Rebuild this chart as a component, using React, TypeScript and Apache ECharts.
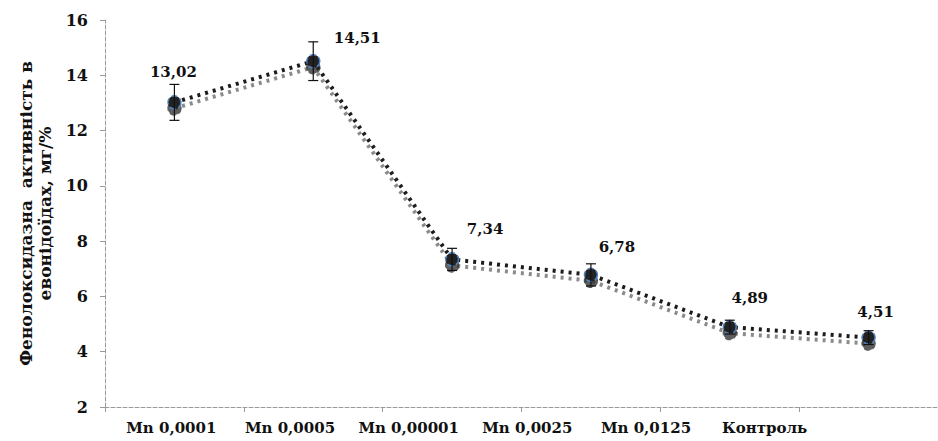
import React, { useEffect, useRef } from "react";
import * as echarts from "echarts";

const categories = ["Mn 0,0001", "Mn 0,0005", "Mn 0,00001", "Mn 0,0025", "Mn 0,0125", "Контроль"];
const values = [13.02, 14.51, 7.34, 6.78, 4.89, 4.51];
const errors = [0.65, 0.7, 0.4, 0.4, 0.25, 0.25];
const valueLabels = ["13,02", "14,51", "7,34", "6,78", "4,89", "4,51"];
const yMin = 2;
const yMax = 16;
const yStep = 2;
const yTitle = "Фенолоксидазна  активність в\nевонідоїдах, мг/%";

const labelOffsets: [number, number][] = [
  [-1, -30],
  [44, -23],
  [33, -30],
  [26, -28],
  [20, -29],
  [7, -26],
];

const serif = "DejaVu Serif";

export default function App() {
  const ref = useRef<HTMLDivElement>(null);
  useEffect(() => {
    if (!ref.current) return;
    const chart = echarts.init(ref.current, null, { renderer: "svg" });
    const option: any = {
      animation: false,
      backgroundColor: "#ffffff",
      grid: [
        { left: 105, top: 20, bottom: 34, right: -7, containLabel: false },
        { left: 112, top: 20, bottom: 34, right: 114, containLabel: false },
      ],
      xAxis: [
        {
          type: "category",
          gridIndex: 0,
          data: categories,
          boundaryGap: true,
          axisLine: { lineStyle: { color: "#9a9a9a", type: "dashed", width: 1 } },
          axisTick: { show: true, length: 5, lineStyle: { color: "#9a9a9a" } },
          axisLabel: { show: false },
        },
        {
          type: "category",
          gridIndex: 1,
          data: categories,
          axisLine: { show: false },
          axisTick: { show: false },
          axisLabel: {
            show: true,
            interval: 0,
            hideOverlap: false,
            margin: 13,
            color: "#111",
            fontFamily: serif,
            fontWeight: "bold",
            fontSize: 15,
          },
        },
      ],
      yAxis: [
        {
          type: "value",
          gridIndex: 0,
          min: yMin,
          max: yMax,
          interval: yStep,
          name: yTitle,
          nameLocation: "middle",
          nameGap: 50,
          nameRotate: 90,
          nameTextStyle: {
            fontFamily: serif,
            fontWeight: "bold",
            fontSize: 17,
            color: "#111",
            lineHeight: 19,
          },
          axisLine: { show: true, lineStyle: { color: "#9a9a9a", type: "dashed", width: 1 } },
          axisTick: { show: true, length: 5, lineStyle: { color: "#9a9a9a" } },
          splitLine: { show: false },
          axisLabel: {
            margin: 17,
            color: "#111",
            fontFamily: serif,
            fontWeight: "bold",
            fontSize: 16,
          },
        },
        {
          type: "value",
          gridIndex: 1,
          min: yMin,
          max: yMax,
          show: false,
        },
      ],
      series: [
        {
          type: "line",
          xAxisIndex: 0,
          yAxisIndex: 0,
          data: values.map((v, i) => ({
            value: v,
            label: {
              show: true,
              formatter: valueLabels[i],
              position: "inside",
              offset: labelOffsets[i],
              fontFamily: serif,
              fontWeight: "bold",
              fontSize: 15,
              color: "#111",
            },
          })),
          symbol: "circle",
          symbolSize: 13,
          itemStyle: {
            color: "#222",
            borderColor: "#4f81bd",
            borderWidth: 1.5,
            borderType: "dashed",
            shadowColor: "rgba(40,40,40,0.75)",
            shadowOffsetY: 6,
            shadowBlur: 0,
          },
          lineStyle: {
            color: "#1e1e1e",
            width: 4,
            type: [3, 5],
            shadowColor: "rgba(90,90,90,0.7)",
            shadowOffsetY: 6,
            shadowBlur: 0,
          },
          z: 3,
        },
        {
          type: "custom",
          xAxisIndex: 0,
          yAxisIndex: 0,
          data: values.map((v, i) => [i, v - errors[i], v + errors[i]]),
          renderItem: (params: any, api: any) => {
            const lo = api.coord([api.value(0), api.value(1)]);
            const hi = api.coord([api.value(0), api.value(2)]);
            const w = 5;
            const st = { stroke: "#111", lineWidth: 1.2 };
            return {
              type: "group",
              children: [
                { type: "line", shape: { x1: hi[0], y1: hi[1], x2: lo[0], y2: lo[1] }, style: st },
                { type: "line", shape: { x1: hi[0] - w, y1: hi[1], x2: hi[0] + w, y2: hi[1] }, style: st },
                { type: "line", shape: { x1: lo[0] - w, y1: lo[1], x2: lo[0] + w, y2: lo[1] }, style: st },
              ],
            };
          },
          z: 4,
        },
      ],
    };
    chart.setOption(option);
    return () => chart.dispose();
  }, []);
  return (
    <div
      ref={ref}
      style={{ position: "fixed", left: 0, top: 0, width: 938, height: 441, background: "#fff" }}
    />
  );
}
